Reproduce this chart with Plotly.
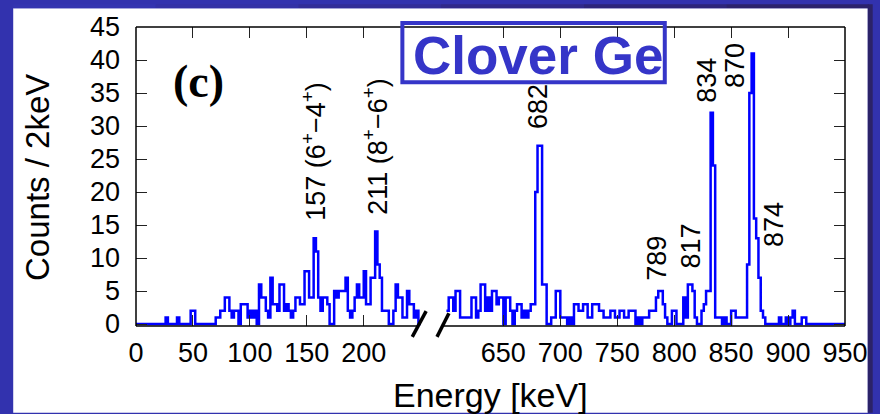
import plotly.graph_objects as go

# ---------------- data (counts per 2 keV bin) ----------------
BIN_KEV = 2
LEFT_START_KEV = 0
LEFT_COUNTS = [
    0, 0, 0, 0, 0, 0, 0, 0, 0, 0,
    0, 0, 0, 1, 0, 0, 0, 0, 1, 0,
    0, 0, 0, 0, 2, 2, 0, 0, 0, 0,
    0, 0, 0, 0, 0, 1, 1, 2, 2, 4,
    4, 2, 1, 2, 2, 0, 3, 3, 3, 1,
    2, 1, 2, 0, 6, 4, 4, 2, 1, 7,
    3, 3, 2, 6, 6, 2, 3, 2, 1, 2,
    4, 4, 3, 3, 8, 8, 4, 4, 13, 11,
    4, 2, 4, 4, 3, 0, 0, 5, 4, 5,
    5, 5, 7, 2, 1, 2, 4, 6, 4, 4,
    8, 3, 3, 7, 7, 14, 9, 7, 2, 2,
    2, 0, 0, 2, 6, 4, 4, 1, 1, 5,
    3, 3, 1, 2, 0,
]
RIGHT_START_KEV = 600
RIGHT_COUNTS = [
    2, 4, 4, 2, 5, 5, 1, 1, 1, 1,
    1, 4, 4, 1, 2, 6, 6, 2, 4, 2,
    5, 5, 3, 4, 4, 0, 4, 4, 2, 0,
    2, 3, 3, 1, 2, 1, 2, 3, 3, 20,
    27, 27, 6, 6, 0, 0, 1, 1, 5, 5,
    1, 1, 1, 0, 1, 0, 3, 3, 2, 2,
    3, 3, 1, 1, 3, 3, 3, 2, 2, 1,
    1, 1, 2, 2, 1, 1, 2, 2, 1, 1,
    2, 2, 2, 0, 1, 0, 1, 1, 1, 2,
    2, 2, 4, 5, 5, 3, 1, 0, 0, 2,
    2, 0, 0, 0, 4, 1, 6, 6, 5, 1,
    0, 0, 2, 3, 5, 5, 32, 24, 1, 1,
    1, 0, 1, 0, 0, 2, 2, 1, 1, 1,
    1, 1, 9, 35, 41, 16, 13, 7, 2, 1,
    0, 0, 0, 0, 0, 0, 1, 0, 0, 1,
    0, 1, 2, 0, 0, 0, 1, 1, 0, 0,
    0, 0, 0, 0, 0, 0, 0, 0, 0, 0,
    0, 0, 0, 0, 0,
]
BREAK_SHIFT_KEV = 327.4  # keV removed from the axis by the break
X_TICK_KEV = [0, 50, 100, 150, 200, 650, 700, 750, 800, 850, 900, 950]
X_TICK_TEXT = ["0", "50", "100", "150", "200", "650", "700", "750", "800", "850", "900", "950"]
Y_TICKS = [0, 5, 10, 15, 20, 25, 30, 35, 40, 45]
PEAK_LABELS = ["157 (6<sup>+</sup>\u22124<sup>+</sup>)", "211 (8<sup>+</sup>\u22126<sup>+</sup>)",
               "682", "789", "817", "834", "870", "874"]
PEAK_LABEL_KEV = [156.0, 210.4, 680.4, 784.8, 815.2, 829.1, 853.5, 888.3]
PEAK_LABEL_BASE = [15.3, 16.2, 29.3, 6.3, 8.1, 33.2, 35.4, 11.4]


def to_axis(e):
    return e if e < 400 else e - BREAK_SHIFT_KEV


def step_xy(start, counts):
    xs = [to_axis(start + i * BIN_KEV) for i in range(len(counts) + 1)]
    ys = list(counts) + [counts[-1]]
    return xs, ys


# ---------------- geometry helpers ----------------
W, H = 880, 414
ML, MR, MT, MB = 136, 28, 23, 88
PW, PH = W - ML - MR, H - MT - MB
X_MAX = to_axis(950)


def pxx(px):  # pixel x -> paper x
    return (px - ML) / PW


def pxy(py):  # pixel y -> paper y
    return (H - MB - py) / PH


BLUE = "#0000ff"
FONT = "Liberation Sans, Arial, sans-serif"

fig = go.Figure()
for start, counts in ((LEFT_START_KEV, LEFT_COUNTS), (RIGHT_START_KEV, RIGHT_COUNTS)):
    xs, ys = step_xy(start, counts)
    fig.add_trace(go.Scatter(x=xs, y=ys, mode="lines", line=dict(color=BLUE, width=2.5, shape="hv"),
                             hoverinfo="skip", showlegend=False))

shapes = []
# background panels
shapes.append(dict(type="rect", xref="paper", yref="paper", x0=pxx(12), x1=pxx(875), y0=pxy(414), y1=pxy(4),
                   fillcolor="white", line=dict(width=0), layer="below"))
shapes.append(dict(type="rect", xref="paper", yref="paper", x0=pxx(875), x1=pxx(880), y0=pxy(414), y1=pxy(0),
                   fillcolor="#2b2268", line=dict(width=0), layer="below"))
top_cols = ["#3434b0", "#3331a6", "#322d98", "#30298a", "#2d257a", "#2b226c"]
for i, c in enumerate(top_cols):
    shapes.append(dict(type="rect", xref="paper", yref="paper", x0=pxx(12 + i * 144), x1=pxx(12 + (i + 1) * 144),
                       y0=pxy(4), y1=pxy(0), fillcolor=c, line=dict(width=0), layer="below"))
# frame
fr = dict(color="black", width=1.5)
shapes += [
    dict(type="line", xref="paper", yref="paper", x0=0, x1=1, y0=pxy(23), y1=pxy(23), line=fr),
    dict(type="line", xref="paper", yref="paper", x0=0, x1=0, y0=0, y1=pxy(23), line=fr),
    dict(type="line", xref="paper", yref="paper", x0=1, x1=1, y0=0, y1=pxy(23), line=fr),
    dict(type="line", xref="paper", yref="paper", x0=0, x1=pxx(421), y0=0, y1=0, line=fr),
    dict(type="line", xref="paper", yref="paper", x0=pxx(447), x1=1, y0=0, y1=0, line=fr),
]
# axis break marks
for (xa, ya, xb, yb) in ((415, 337, 429, 311), (440, 337, 452, 313)):
    shapes.append(dict(type="line", xref="paper", yref="paper", x0=pxx(xa), y0=pxy(ya), x1=pxx(xb), y1=pxy(yb),
                       line=dict(color="black", width=3.5)))
# Clover Ge box
BOXC = "#3535c8"
shapes.append(dict(type="rect", xref="paper", yref="paper", x0=pxx(405), x1=pxx(670), y0=pxy(79), y1=pxy(19),
                   line=dict(color=BOXC, width=4), fillcolor="rgba(0,0,0,0)"))

annotations = []
for txt, e, yb in zip(PEAK_LABELS, PEAK_LABEL_KEV, PEAK_LABEL_BASE):
    annotations.append(dict(x=to_axis(e), y=yb, xref="x", yref="y", text=txt, textangle=-90,
                            showarrow=False, xanchor="center", yanchor="bottom",
                            font=dict(family=FONT, size=27, color="black")))
annotations.append(dict(x=pxx(199), y=pxy(78), xref="paper", yref="paper", text="<b>(c)</b>", showarrow=False,
                        xanchor="center", yanchor="middle",
                        font=dict(family="Liberation Serif, Times New Roman, serif", size=46, color="black")))
annotations.append(dict(x=pxx(542), y=pxy(52), xref="paper", yref="paper", text="<b>Clover Ge</b>",
                        showarrow=False, xanchor="center", yanchor="middle",
                        font=dict(family=FONT, size=53, color=BOXC)))
annotations.append(dict(x=pxx(494), y=pxy(396), xref="paper", yref="paper", text="Energy [keV]",
                        showarrow=False, xanchor="center", yanchor="middle",
                        font=dict(family=FONT, size=34, color="black")))
annotations.append(dict(x=pxx(37), y=pxy(175), xref="paper", yref="paper", text="Counts / 2keV",
                        textangle=-90, showarrow=False, xanchor="center", yanchor="middle",
                        font=dict(family=FONT, size=33, color="black")))

fig.update_layout(
    width=W, height=H, margin=dict(l=ML, r=MR, t=MT, b=MB, pad=0),
    paper_bgcolor="#3232ae", plot_bgcolor="white",
    shapes=shapes, annotations=annotations, hovermode=False,
    xaxis=dict(range=[0, X_MAX], tickvals=[to_axis(v) for v in X_TICK_KEV], ticktext=X_TICK_TEXT,
               ticks="inside", ticklen=11, tickwidth=1, tickcolor="#222", mirror="ticks", showline=False,
               showgrid=False, zeroline=False, ticklabelstandoff=8,
               tickfont=dict(family=FONT, size=27, color="black")),
    yaxis=dict(range=[-0.3, 45], tickvals=Y_TICKS, ticks="inside", ticklen=11, tickwidth=1, tickcolor="#222",
               mirror="ticks", showline=False, showgrid=False, zeroline=False, ticklabelstandoff=15,
               tickfont=dict(family=FONT, size=27, color="black")),
)

fig.write_html("out.html")
